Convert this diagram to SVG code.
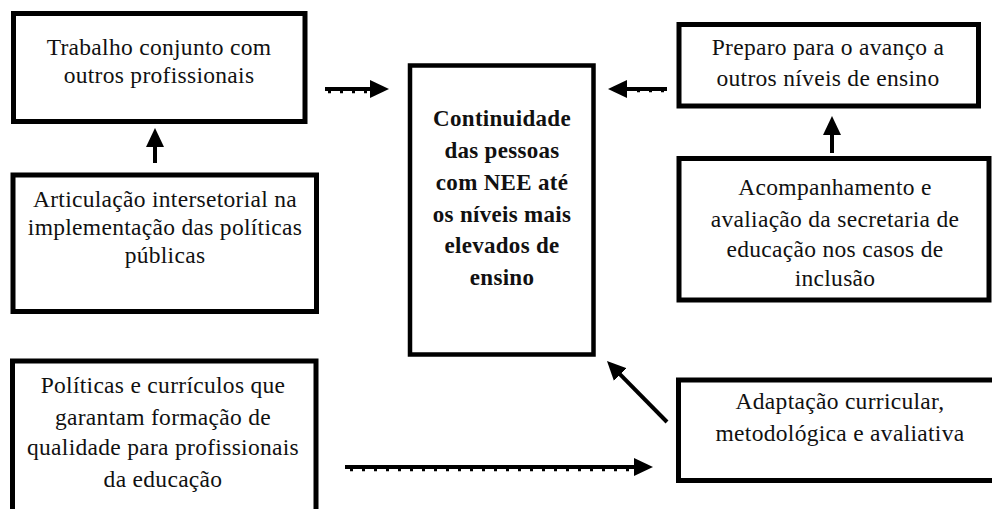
<svg xmlns="http://www.w3.org/2000/svg" width="992" height="509" viewBox="0 0 992 509">
<style>
.box{fill:#fff;stroke:#000;stroke-width:5}
.t{font-family:'Liberation Serif','Times New Roman',serif;font-size:23.5px;fill:#111;text-anchor:middle;letter-spacing:0.3px}
.b{font-family:'Liberation Serif','Times New Roman',serif;font-size:23px;font-weight:bold;fill:#111;text-anchor:middle;letter-spacing:0.3px}
.c{stroke:#000;stroke-width:4;fill:none;marker-end:url(#ah)}
.tick{stroke:#000;stroke-width:2.5;fill:none;stroke-dasharray:3 9}
</style>
<defs>
<marker id="ah" viewBox="0 0 20 20" markerWidth="20" markerHeight="20" markerUnits="userSpaceOnUse" refX="1" refY="10" orient="auto">
<path d="M0,1 L19,10 L0,19 z" fill="#000"/>
</marker>
</defs>
<rect width="992" height="509" fill="#fff"/>
<g id="connectors">
<line class="c" x1="155" y1="163" x2="155" y2="146"/>
<line class="c" x1="325" y1="89" x2="371" y2="89"/>
<line class="tick" x1="328" y1="92" x2="368" y2="92"/>
<line class="c" x1="667" y1="89" x2="626" y2="89"/>
<line class="tick" x1="664" y1="91" x2="630" y2="91"/>
<line class="c" x1="832" y1="153" x2="832" y2="134"/>
<line class="c" x1="667" y1="422" x2="619.6" y2="373.8"/>
<line class="c" x1="345" y1="467" x2="635" y2="467"/>
<line class="tick" x1="350" y1="470" x2="632" y2="470"/>
</g>
<g id="n-trabalho">
<rect class="box" x="13.5" y="13.5" width="291.5" height="108"/>
<text class="t" x="159" y="55">Trabalho conjunto com</text>
<text class="t" x="159" y="83">outros profissionais</text>
</g>
<g id="n-articulacao">
<rect class="box" x="13" y="175" width="303.5" height="136.5"/>
<text class="t" x="165" y="207">Articulação intersetorial na</text>
<text class="t" x="165" y="235">implementação das políticas</text>
<text class="t" x="165" y="263">públicas</text>
</g>
<g id="n-continuidade">
<rect class="box" x="410" y="65.5" width="183.5" height="289" style="stroke-width:4.5"/>
<text class="b" x="502" y="126">Continuidade</text>
<text class="b" x="502" y="158">das pessoas</text>
<text class="b" x="502" y="190">com NEE até</text>
<text class="b" x="502" y="222">os níveis mais</text>
<text class="b" x="502" y="253">elevados de</text>
<text class="b" x="502" y="285">ensino</text>
</g>
<g id="n-preparo">
<rect class="box" x="679" y="24.5" width="299.5" height="81.5"/>
<text class="t" x="828" y="55">Preparo para o avanço a</text>
<text class="t" x="828" y="86">outros níveis de ensino</text>
</g>
<g id="n-acompanhamento">
<rect class="box" x="679" y="158.5" width="310" height="141.5"/>
<text class="t" x="835" y="195">Acompanhamento e</text>
<text class="t" x="835" y="227">avaliação da secretaria de</text>
<text class="t" x="835" y="257">educação nos casos de</text>
<text class="t" x="835" y="286">inclusão</text>
</g>
<g id="n-politicas">
<rect class="box" x="12.5" y="361" width="303.5" height="160"/>
<text class="t" x="163" y="393">Políticas e currículos que</text>
<text class="t" x="163" y="425">garantam formação de</text>
<text class="t" x="163" y="455">qualidade para profissionais</text>
<text class="t" x="163" y="487">da educação</text>
</g>
<g id="n-adaptacao">
<rect class="box" x="678.5" y="380" width="330" height="100.5"/>
<text class="t" x="840" y="409">Adaptação curricular,</text>
<text class="t" x="840" y="441">metodológica e avaliativa</text>
</g>
</svg>
